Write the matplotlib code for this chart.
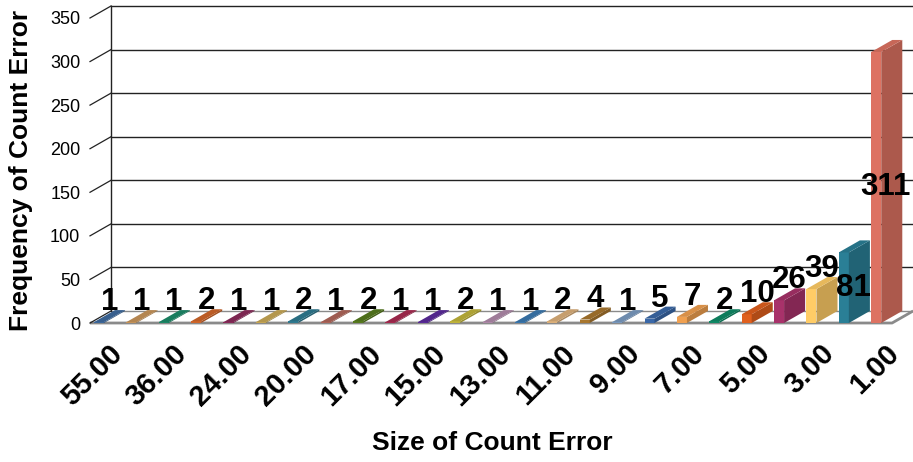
import matplotlib
matplotlib.use("Agg")
import numpy as np
import matplotlib.pyplot as plt
from matplotlib.patches import Polygon
from matplotlib.colors import to_rgb

plt.rcParams['font.family'] = ['Liberation Sans', 'DejaVu Sans']

# Size of count error (categories, left to right) and how often it occurred
sizes = [55, 45, 36, 30, 24, 22, 20, 18, 17, 16, 15, 14, 13, 12, 11, 10,
         9, 8, 7, 6, 5, 4, 3, 2, 1]
freq = [1, 1, 1, 2, 1, 1, 2, 1, 2, 1, 1, 2, 1, 1, 2, 4,
        1, 5, 7, 2, 10, 26, 39, 81, 311]
colors = ['#3d6a9e', '#c8955a', '#1c8a68', '#d0662a', '#8a2a5a', '#c8a855',
          '#2f7a90', '#b0665a', '#567a1e', '#a82a50', '#5a2a9a', '#c0b43a',
          '#b08aaa', '#3a78b0', '#dcb07a', '#a8762e', '#7a9ac0', '#3a68a8',
          '#f0a050', '#108a66', '#e0601e', '#a8326a', '#ffcc66', '#2a7f96',
          '#dd7262']
yticks = [0, 50, 100, 150, 200, 250, 300, 350]

fig = plt.figure(figsize=(9.13, 4.62), dpi=100)
ax = fig.add_axes([90 / 913, 1 - 323 / 462, 805 / 913, 305 / 462])

n = len(freq)
x = np.arange(n)
xmin, xmax = -0.277, 24.49
ymax = 350
w = 0.31      # front face width
dx = 0.65     # depth offset (categories)
dy = 13.8     # depth offset (value units)

ax.set_xlim(xmin, xmax)
ax.set_ylim(0, ymax)
for s in ax.spines.values():
    s.set_visible(False)


def shade(c, f):
    r, g, b = to_rgb(c)
    return (r * f, g * f, b * f)


# floor
floor = Polygon([(xmin, 0), (xmax, 0), (xmax + dx, dy), (xmin + dx, dy)],
                closed=True, facecolor='white', edgecolor='none', zorder=0.5,
                clip_on=False)
ax.add_patch(floor)
ax.plot([xmin, xmax, xmax + dx], [0, 0, dy], color='#8a8a8a', lw=2,
        clip_on=False, zorder=1, solid_capstyle='butt')

# back wall gridlines, left wall tick diagonals
for t in yticks:
    col = '#8a8a8a' if t == 0 else '#222222'
    ax.plot([xmin + dx, xmax + dx], [t + dy, t + dy], color=col, lw=1,
            clip_on=False, zorder=1)
    ax.plot([xmin, xmin + dx], [t, t + dy], color='#222222', lw=0.9,
            clip_on=False, zorder=1)
ax.plot([xmin + dx, xmin + dx], [dy, ymax + dy], color='#222222', lw=1,
        clip_on=False, zorder=1)

# bars: front faces through ax.bar, side and top as polygons
ax.bar(x, freq, width=w, color=colors, zorder=3, linewidth=0)
for i, v in enumerate(freq):
    xr = x[i] + w / 2
    xl = x[i] - w / 2
    side = Polygon([(xr, 0), (xr + dx, dy), (xr + dx, v + dy), (xr, v)],
                   closed=True, facecolor=shade(colors[i], 0.78),
                   edgecolor='none', zorder=3, clip_on=False)
    top = Polygon([(xl, v), (xr, v), (xr + dx, v + dy), (xl + dx, v + dy)],
                  closed=True, facecolor=shade(colors[i], 0.9),
                  edgecolor='none', zorder=3, clip_on=False)
    ax.add_patch(side)
    ax.add_patch(top)

# data labels
for i, v in enumerate(freq):
    if v > 60:
        ax.text(x[i] + 0.3, v / 2, str(v), ha='center', va='center',
                fontsize=22.5, fontweight='bold', zorder=5)
    else:
        ax.text(x[i] + 0.32, v + dy, str(v), ha='center', va='baseline',
                fontsize=22.5, fontweight='bold', zorder=5)

# axes ticks
ax.set_yticks(yticks)
ax.set_yticklabels([str(t) for t in yticks], fontsize=13)
ax.tick_params(axis='y', length=0, pad=7)

ax.set_xticks(x[::2] + 0.58)
ax.set_xticklabels(['%.2f' % s for s in sizes[::2]], fontsize=21,
                   fontweight='bold', rotation=45, ha='right', va='center',
                   rotation_mode='anchor')
ax.tick_params(axis='x', length=0, pad=19)

ax.set_ylabel('Frequency of Count Error', fontsize=19, fontweight='bold')
ax.yaxis.set_label_coords(-0.071, 0.5)
ax.set_xlabel('Size of Count Error', fontsize=19, fontweight='bold',
              va='center')
ax.xaxis.set_label_coords(0.5, -0.393)

fig.savefig('out.png', dpi=100)
